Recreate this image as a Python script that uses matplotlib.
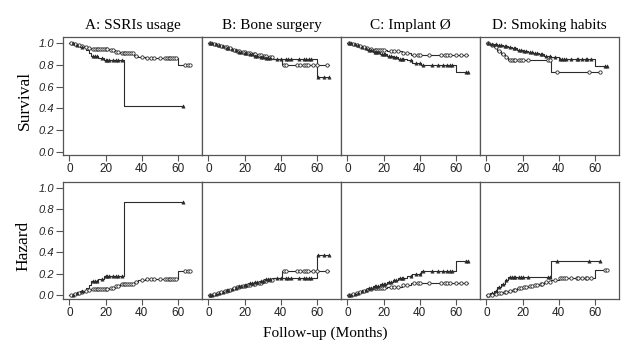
import numpy as np
import matplotlib
matplotlib.use("Agg")
import matplotlib.pyplot as plt

# Kaplan-Meier steps: event times, survival after each step,
# last follow-up and censoring times for each group ("o" group and "^" group)
titles = ["A: SSRIs usage", "B: Bone surgery", "C: Implant \u00d8", "D: Smoking habits"]

a_o_t = [0, 2, 4, 6, 8, 10, 12, 22, 25, 28, 36, 38, 42, 60]
a_o_s = [1.0, 0.99, 0.985, 0.975, 0.965, 0.955, 0.945, 0.935, 0.92, 0.905, 0.885, 0.87, 0.86, 0.80]
a_o_end = 67
a_o_cens = [1, 3, 5, 7, 9, 11, 13, 14, 15, 16, 17, 18, 19, 20, 21, 23, 24, 26, 27, 29, 30, 31,
            32, 33, 34, 35, 37, 40, 43, 45, 47, 50, 53, 54, 55, 56, 57, 58, 59, 64, 66, 67]
a_t_t = [0, 3, 6, 9, 11, 12, 16, 19, 30]
a_t_s = [1.0, 0.98, 0.96, 0.94, 0.91, 0.88, 0.86, 0.84, 0.42]
a_t_end = 63
a_t_cens = [2, 4, 7, 13, 14, 15, 18, 20, 21, 22, 24, 26, 27, 29, 63]

b_o_t = [0, 2, 4, 6, 8, 11, 13, 15, 18, 21, 24, 27, 30, 33, 36, 41]
b_o_s = [1.0, 0.99, 0.98, 0.97, 0.96, 0.95, 0.94, 0.93, 0.92, 0.91, 0.90, 0.89, 0.88, 0.87, 0.85, 0.80]
b_o_end = 67
b_o_cens = [1, 3, 5, 7, 9, 10, 12, 14, 16, 17, 19, 20, 22, 23, 25, 26, 28, 29, 31, 32, 34, 35,
            42, 43, 49, 51, 53, 54, 55, 58, 60, 66]
b_t_t = [0, 3, 5, 7, 9, 12, 14, 16, 19, 22, 25, 28, 31, 35, 60]
b_t_s = [1.0, 0.99, 0.98, 0.97, 0.955, 0.945, 0.935, 0.92, 0.91, 0.895, 0.885, 0.875, 0.86, 0.85, 0.69]
b_t_end = 67
b_t_cens = [1, 2, 4, 6, 8, 10, 11, 13, 15, 17, 18, 20, 21, 23, 24, 26, 27, 29, 30, 32, 33, 34,
            38, 40, 43, 44, 46, 50, 53, 54, 56, 57, 61, 64, 67]

c_o_t = [0, 2, 4, 6, 8, 10, 12, 14, 22, 30, 35]
c_o_s = [1.0, 0.99, 0.985, 0.975, 0.965, 0.955, 0.945, 0.935, 0.93, 0.91, 0.89]
c_o_end = 67
c_o_cens = [1, 3, 5, 7, 9, 11, 13, 15, 16, 17, 18, 19, 20, 24, 26, 28, 31, 33, 37, 39, 40, 45,
            52, 54, 55, 57, 60, 63, 66]
c_t_t = [0, 3, 5, 7, 9, 11, 14, 18, 22, 25, 28, 33, 36, 41, 60]
c_t_s = [1.0, 0.99, 0.98, 0.965, 0.955, 0.94, 0.92, 0.90, 0.885, 0.87, 0.855, 0.84, 0.82, 0.80, 0.73]
c_t_end = 67
c_t_cens = [1, 2, 4, 6, 8, 10, 12, 13, 15, 16, 17, 19, 20, 21, 23, 24, 26, 27, 29, 30, 31, 35,
            38, 40, 42, 47, 50, 53, 55, 57, 58, 66, 67]

d_o_t = [0, 2, 4, 6, 8, 10, 12, 36]
d_o_s = [1.0, 0.98, 0.96, 0.93, 0.90, 0.87, 0.845, 0.73]
d_o_end = 63
d_o_cens = [1, 3, 5, 7, 9, 11, 13, 14, 15, 16, 18, 19, 20, 23, 34, 35, 39, 57, 63]
d_t_t = [0, 2, 4, 6, 9, 12, 14, 17, 20, 23, 26, 29, 32, 36, 40, 60]
d_t_s = [1.0, 0.995, 0.99, 0.985, 0.975, 0.96, 0.95, 0.94, 0.93, 0.92, 0.91, 0.90, 0.885, 0.87, 0.85, 0.79]
d_t_end = 67
d_t_cens = [1, 3, 5, 7, 8, 10, 11, 13, 15, 16, 18, 19, 21, 22, 24, 25, 27, 28, 30, 31, 33, 35,
            38, 41, 42, 43, 44, 47, 50, 51, 53, 55, 56, 58, 66, 67]

panels = [
    [(a_o_t, a_o_s, a_o_end, a_o_cens), (a_t_t, a_t_s, a_t_end, a_t_cens)],
    [(b_o_t, b_o_s, b_o_end, b_o_cens), (b_t_t, b_t_s, b_t_end, b_t_cens)],
    [(c_o_t, c_o_s, c_o_end, c_o_cens), (c_t_t, c_t_s, c_t_end, c_t_cens)],
    [(d_o_t, d_o_s, d_o_end, d_o_cens), (d_t_t, d_t_s, d_t_end, d_t_cens)],
]
# in panel D the hazard plot uses the other symbol for each group
swap_hazard_marks = [False, False, False, True]

line_col = "#2b2b2b"
frame_col = "#555555"
serif = "Liberation Serif"
sans = "Liberation Sans"

W, H = 640, 351
fig = plt.figure(figsize=(6.4, 3.51), dpi=100)
fig.patch.set_facecolor("white")

lefts = [63, 202, 341, 480]
pw = 139
rows = [(37, 155, (-0.028, 1.055)), (182, 299, (-0.037, 1.056))]


def draw_group(ax, t, s, end, cens, marker, hazard):
    t = np.asarray(t, float)
    s = np.asarray(s, float)
    y = -np.log(s) if hazard else s
    xs = np.append(t, end)
    ys = np.append(y, y[-1])
    ax.step(xs, ys, where="post", color=line_col, lw=0.8, zorder=2)
    c = np.asarray(cens, float)
    cy = y[np.searchsorted(t, c, side="right") - 1]
    if marker == "o":
        ax.plot(c, cy, "o", ms=2.4, mfc="white", mec=line_col, mew=0.6, ls="none", zorder=3)
    else:
        ax.plot(c, cy, "^", ms=2.4, mfc=line_col, mec=line_col, mew=0.4, ls="none", zorder=3)


for r, (top, bot, ylim) in enumerate(rows):
    hazard = r == 1
    for i, left in enumerate(lefts):
        ax = fig.add_axes([left / W, 1 - bot / H, pw / W, (bot - top) / H])
        marks = ["o", "^"]
        if hazard and swap_hazard_marks[i]:
            marks = ["^", "o"]
        for grp, m in zip(panels[i], marks):
            draw_group(ax, *grp, m, hazard)
        ax.set_xlim(-3.6, 73.5)
        ax.set_ylim(*ylim)
        ax.set_xticks([0, 20, 40, 60])
        ax.set_yticks([0.0, 0.2, 0.4, 0.6, 0.8, 1.0])
        for sp in ax.spines.values():
            sp.set_color(frame_col)
            sp.set_linewidth(0.9)
        ax.tick_params(axis="x", direction="out", length=4, width=0.8, color=frame_col,
                       labelsize=8.5, pad=2, labelcolor="#222222")
        for lab in ax.get_xticklabels():
            lab.set_fontfamily(sans)
        if i == 0:
            ax.tick_params(axis="y", direction="out", length=5, width=0.8, color=frame_col,
                           labelsize=8, pad=1.5, labelcolor="#222222")
            ax.set_yticklabels(["0.0", "0.2", "0.4", "0.6", "0.8", "1.0"],
                               fontfamily=sans, fontstyle="italic")
        else:
            ax.tick_params(axis="y", left=False, labelleft=False)
        if r == 0:
            fig.text((left + pw / 2) / W, 1 - 26 / H, titles[i], ha="center", va="center",
                     fontfamily=serif, fontsize=11)

fig.text(25 / W, 1 - 100 / H, "Survival", rotation=90, ha="center", va="center",
         fontfamily=serif, fontsize=12.5)
fig.text(23 / W, 1 - 246 / H, "Hazard", rotation=90, ha="center", va="center",
         fontfamily=serif, fontsize=12.5)
fig.text(325 / W, 1 - 333 / H, "Follow-up (Months)", ha="center", va="center",
         fontfamily=serif, fontsize=11)

fig.savefig("out.png", dpi=100)
